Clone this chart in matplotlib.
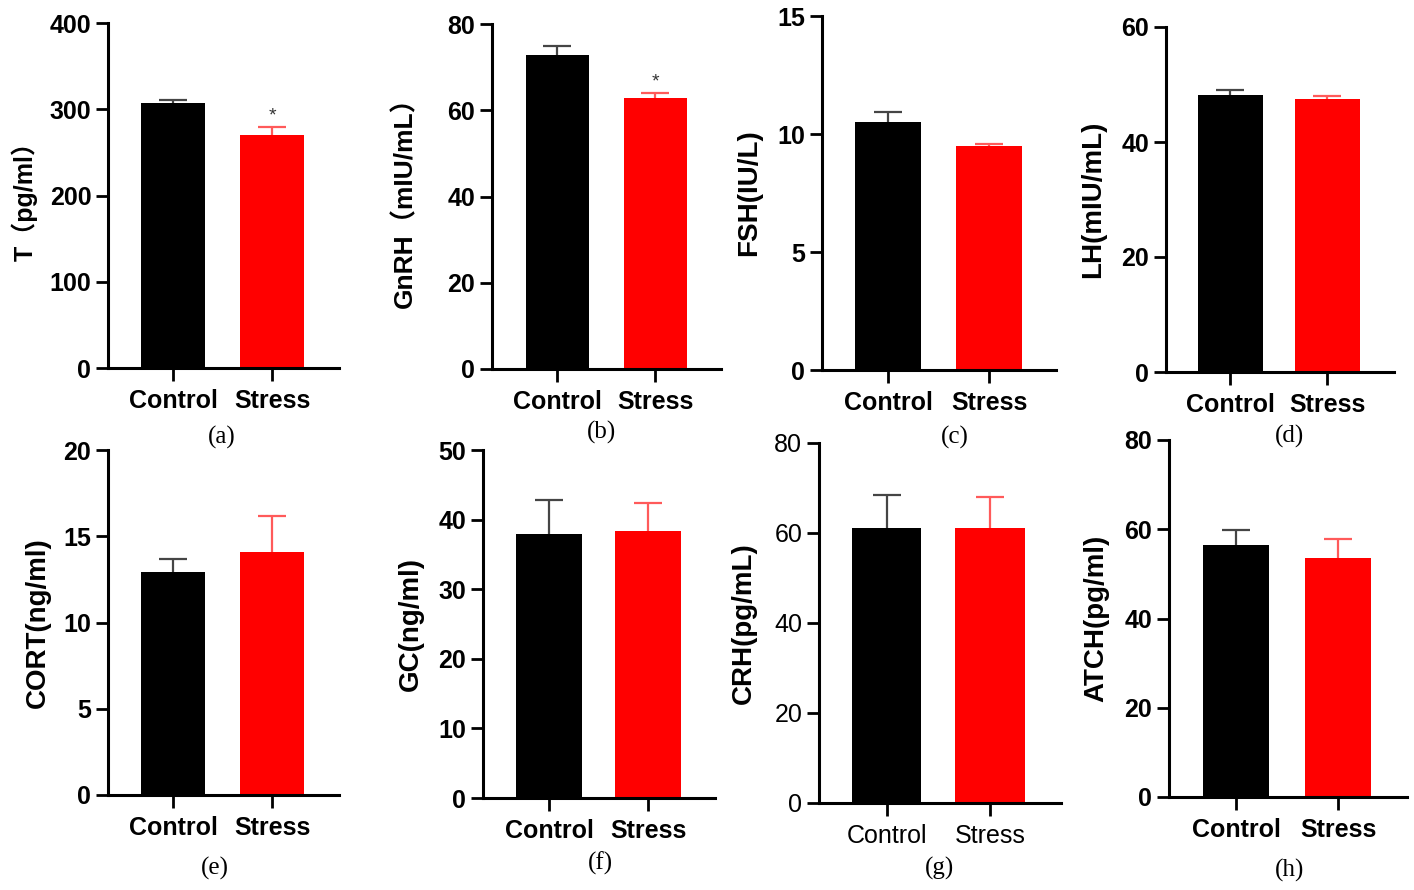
import numpy as np
import matplotlib
matplotlib.use("Agg")
import matplotlib.pyplot as plt

plt.rcParams['font.family'] = ['Liberation Sans', 'Noto Sans CJK SC', 'DejaVu Sans']

# data
groups = ['Control', 'Stress']
ylabels = ['T（pg/ml）', 'GnRH（mIU/mL）', 'FSH(IU/L)', 'LH(mIU/mL)',
           'CORT(ng/ml)', 'GC(ng/ml)', 'CRH(pg/mL)', 'ATCH(pg/ml)']
tags = ['(a)', '(b)', '(c)', '(d)', '(e)', '(f)', '(g)', '(h)']
control_mean = [307, 72.9, 10.5, 48.1, 12.9, 37.9, 61.2, 56.5]
control_err = [4.0, 1.9, 0.42, 1.0, 0.77, 4.95, 7.3, 3.3]
stress_mean = [270, 62.9, 9.5, 47.5, 14.1, 38.4, 61.2, 53.6]
stress_err = [9.5, 1.1, 0.07, 0.5, 2.1, 4.0, 6.9, 4.2]
y_max = [400, 80, 15, 60, 20, 50, 80, 80]
y_step = [100, 20, 5, 20, 5, 10, 20, 20]
star = [True, True, False, False, False, False, False, False]

# layout (pixel positions in the 1414x890 figure)
W, H = 1414, 890
spine_px = [108, 492, 822, 1166, 108, 483, 819, 1169]
right_px = [339, 721, 1056, 1394, 339, 715, 1061, 1407]
top_px = [23, 24, 16, 27, 450, 450, 443, 440]
zero_px = [368, 369, 370, 372, 795, 798, 803, 797]
c0_px = [173, 557, 888, 1230, 173, 549, 887, 1236]
c1_px = [272, 655, 989, 1327, 272, 648, 990, 1338]
barw_px = [64, 63, 66, 65, 64, 66, 69, 66]
ylab_x = [24, 405, 749, 1093, 38, 411, 744, 1096]
ylab_size = [18, 19, 20, 20, 20, 20, 20, 20]
tag_xy = [(222, 437), (602, 432), (955, 437), (1290, 436),
          (215, 868), (600, 863), (940, 868), (1290, 870)]

bar_colors = ['#000000', '#ff0000']
err_colors = ['#454545', '#ff5a5a']

fig = plt.figure(figsize=(W / 100, H / 100), dpi=100)

for i in range(8):
    left, right = spine_px[i], right_px[i]
    top, zero = top_px[i], zero_px[i]
    ax = fig.add_axes([left / W, 1 - zero / H, (right - left) / W, (zero - top) / H])
    unit = c1_px[i] - c0_px[i]
    ax.set_xlim(-(c0_px[i] - left) / unit, 1 + (right - c1_px[i]) / unit)
    ax.set_ylim(0, y_max[i])

    x = np.arange(2)
    means = [control_mean[i], stress_mean[i]]
    errs = [control_err[i], stress_err[i]]
    ax.bar(x, means, width=barw_px[i] / unit, color=bar_colors, zorder=2)
    for k in range(2):
        eb = ax.errorbar(x[k], means[k], yerr=[[0], [errs[k]]], fmt='none',
                         ecolor=err_colors[k], elinewidth=1.6, capsize=10,
                         capthick=1.6, zorder=1)
        eb[1][0].set_visible(False)  # no cap at the bar top
    if star[i]:
        ax.annotate('*', (1, stress_mean[i] + stress_err[i]), xytext=(0, 2),
                    textcoords='offset points', ha='center', va='bottom',
                    fontsize=14, color='#333333')

    light = (i == 6)
    wt = 'normal' if light else 'bold'
    ax.set_yticks(np.arange(0, y_max[i] + y_step[i] / 2, y_step[i]))
    ax.set_xticks(x)
    ax.set_xticklabels(groups, fontsize=18, fontweight=wt)
    for lab in ax.get_yticklabels():
        lab.set_fontsize(18)
        lab.set_fontweight(wt)
    ax.tick_params(axis='both', length=9, width=2.0, color='black')
    ax.tick_params(axis='y', pad=3)
    ax.tick_params(axis='x', pad=6)
    for s in ['top', 'right']:
        ax.spines[s].set_visible(False)
    for s in ['left', 'bottom']:
        ax.spines[s].set_linewidth(2.2)

    fig.text(ylab_x[i] / W, 1 - (top + zero) / 2 / H, ylabels[i], rotation=90,
             ha='center', va='center', fontsize=ylab_size[i], fontweight='bold')
    fig.text(tag_xy[i][0] / W, 1 - tag_xy[i][1] / H, tags[i], ha='center',
             va='center', fontsize=18, family='Liberation Serif')

fig.savefig('out.png', dpi=100)
